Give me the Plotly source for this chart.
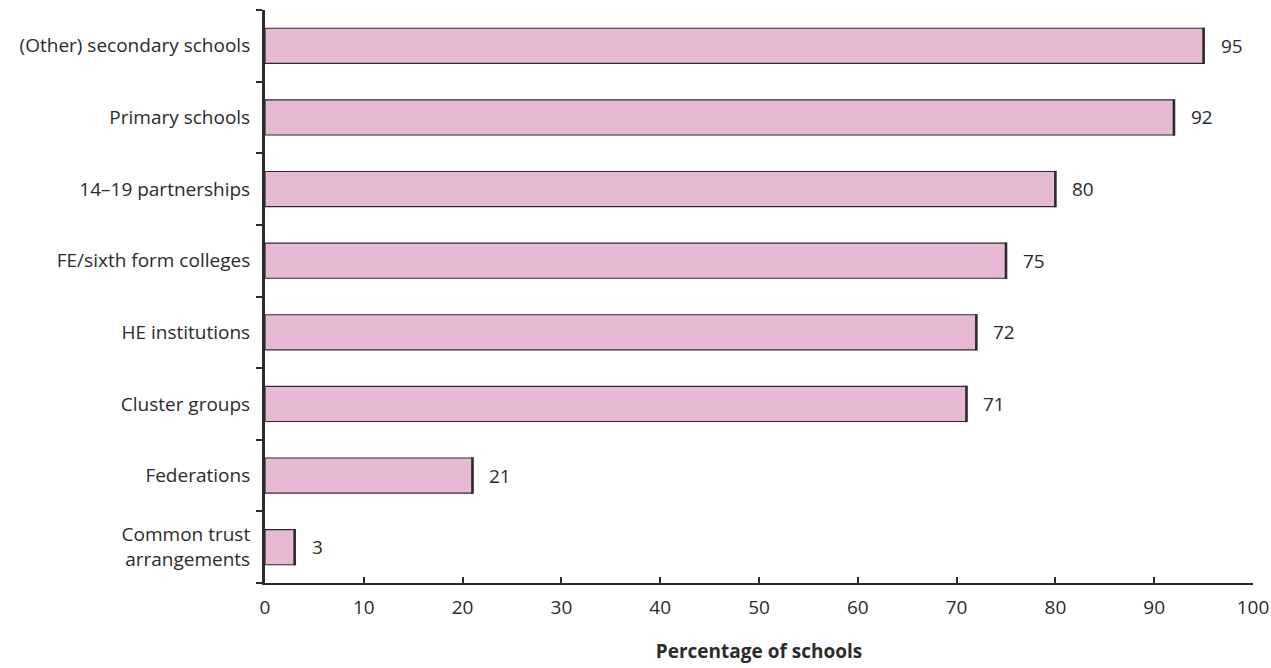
import plotly.graph_objects as go

# Partnership types (top to bottom) and share of schools involved
categories = [
    "(Other) secondary schools",
    "Primary schools",
    "14\u201319 partnerships",
    "FE/sixth form colleges",
    "HE institutions",
    "Cluster groups",
    "Federations",
    "Common trust<br>arrangements",
]
values = [95, 92, 80, 75, 72, 71, 21, 3]

bar_fill = "#E8B9D5"
edge = "#2b2b2b"
text_col = "#2b2b2b"
font_family = "Open Sans, Noto Sans, sans-serif"
fsize = 19

fig = go.Figure()

fig.add_trace(go.Bar(
    x=values,
    y=categories,
    orientation="h",
    width=0.49,
    marker=dict(color=bar_fill, line=dict(color=edge, width=1.2)),
    hoverinfo="skip",
))

# heavier right-hand edge on each bar
fig.add_trace(go.Scatter(
    x=values,
    y=categories,
    mode="markers",
    marker=dict(symbol="line-ns", size=26, line=dict(color=edge, width=2.6)),
    hoverinfo="skip",
    cliponaxis=False,
))

# value labels beside the bars
for cat, val in zip(categories, values):
    fig.add_annotation(
        x=val, y=cat, text=str(val), showarrow=False,
        xanchor="left", xshift=15,
        font=dict(family=font_family, size=fsize, color=text_col),
    )

fig.update_layout(
    width=1271, height=668,
    margin=dict(l=265, r=18, t=10, b=85),
    paper_bgcolor="white",
    plot_bgcolor="white",
    showlegend=False,
    bargap=0.51,
    font=dict(family=font_family, size=fsize, color=text_col),
)

fig.update_xaxes(
    range=[0, 100],
    automargin=False,
    ticklabeloverflow="allow",
    tickvals=list(range(0, 101, 10)),
    ticks="inside", ticklen=6, tickwidth=2, tickcolor=edge,
    showline=True, linecolor=edge, linewidth=1.6,
    showgrid=False, zeroline=False,
    ticklabelstandoff=6,
    tickfont=dict(family=font_family, size=fsize, color=text_col),
    title=dict(text="<b>Percentage of schools</b>", standoff=26,
               font=dict(family=font_family, size=19, color=text_col)),
)

fig.update_yaxes(
    categoryorder="array", categoryarray=categories[::-1],
    autorange=False, range=[-0.5, len(categories) - 0.5],
    automargin=False,
    ticks="outside", tickson="boundaries", ticklen=6, tickwidth=1.6, tickcolor=edge,
    showline=True, linecolor=edge, linewidth=3,
    showgrid=False, zeroline=False,
    ticklabelstandoff=8,
    tickfont=dict(family=font_family, size=fsize, color=text_col),
)

fig.write_html("out.html")
